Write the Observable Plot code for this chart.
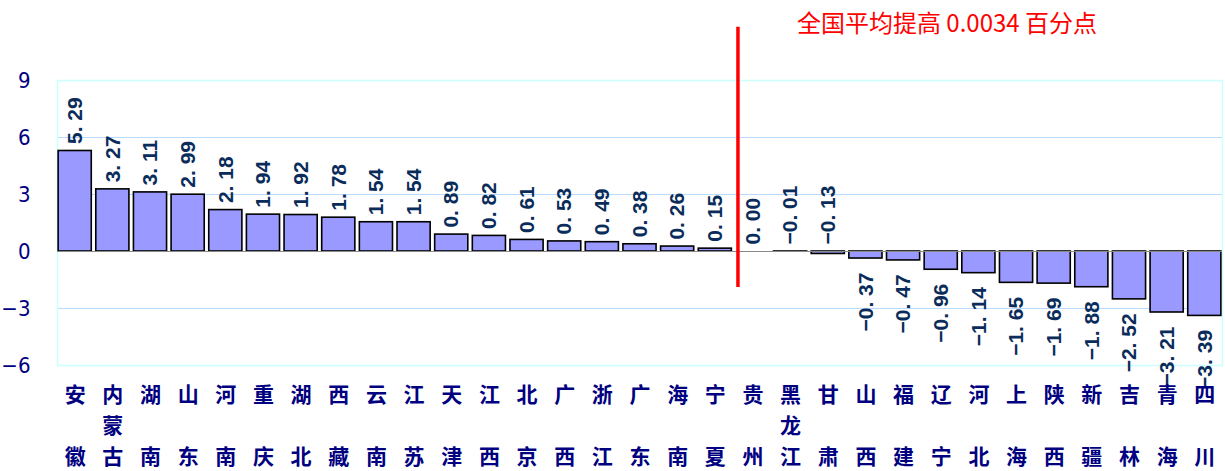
<!DOCTYPE html>
<html><head><meta charset="utf-8">
<script src="https://cdn.jsdelivr.net/npm/d3@7"></script>
<script src="https://cdn.jsdelivr.net/npm/@observablehq/plot@0.6"></script>
<style>
body{margin:0;background:#fff;}
#chart{width:1225px;height:471px;}
g[aria-label="value-labels-up"] text, g[aria-label="value-labels-down"] text{letter-spacing:3px;}
</style></head><body><div id="chart"></div>
<script>
const provinces = ["安徽","内蒙古","湖南","山东","河南","重庆","湖北","西藏","云南","江苏","天津","江西","北京","广西","浙江","广东","海南","宁夏","贵州","黑龙江","甘肃","山西","福建","辽宁","河北","上海","陕西","新疆","吉林","青海","四川"];
const changes = [5.29,3.27,3.11,2.99,2.18,1.94,1.92,1.78,1.54,1.54,0.89,0.82,0.61,0.53,0.49,0.38,0.26,0.15,0.00,-0.01,-0.13,-0.37,-0.47,-0.96,-1.14,-1.65,-1.69,-1.88,-2.52,-3.21,-3.39];
const yTicks = [-6,-3,0,3,6,9];
const gridValues = [-3,3,6];
const note = "全国平均提高 0.0034 百分点";
const markerProvince = "贵州";
const markerRange = [-1.9, 11.8];

const data = provinces.map((p,i)=>({province:p, value:changes[i]}));
const f2 = d3.format(".2f");
const fmt = v => f2(v).replace(".", ". ");
const above = data.filter(d => d.value > -0.2);
const below = data.filter(d => d.value <= -0.2);
const provFmt = p => p.length === 2 ? p[0] + "\n\n" + p[1] : p.split("").join("\n");
const labelFont = "'Liberation Sans', Arial, sans-serif";

const chart = Plot.plot({
  width: 1225, height: 471,
  marginLeft: 57, marginRight: 3, marginTop: 80, marginBottom: 106,
  x: {domain: provinces, paddingInner: 0.12, paddingOuter: 0.03, round: false},
  y: {domain: [-6, 9]},
  style: {background: "white", overflow: "visible"},
  marks: [
    Plot.ruleY(gridValues, {stroke: "#b8dbff", strokeWidth: 1}),
    Plot.frame({stroke: "#ccffff", strokeWidth: 1.5}),
    Plot.barY(data, {x: "province", y: "value", fill: "#9999ff", stroke: "#000", strokeWidth: 1.6}),
    Plot.ruleY([0], {stroke: "#8a8a8a", strokeWidth: 1}),
    Plot.text(above, {x: "province", y: d => Math.max(d.value, 0), text: d => fmt(d.value), rotate: -90, textAnchor: "start", lineAnchor: "middle", dy: -7, fontSize: 21, fontWeight: "bold", fontFamily: labelFont, fill: "#0a2c5a", ariaLabel: "value-labels-up"}),
    Plot.text(below, {x: "province", y: "value", text: d => fmt(d.value), rotate: -90, textAnchor: "end", lineAnchor: "middle", dy: 14, fontSize: 21, fontWeight: "bold", fontFamily: labelFont, fill: "#0a2c5a", ariaLabel: "value-labels-down"}),
    Plot.ruleX([markerProvince], {x: d => d, y1: markerRange[0], y2: markerRange[1], stroke: "#ff0000", strokeWidth: 3.5, dx: -15}),
    Plot.axisY({ticks: yTicks, tickSize: 0, tickPadding: 27, fontSize: 22, fontFamily: "'Liberation Sans Narrow', 'DejaVu Sans Condensed', 'Arial Narrow', sans-serif", color: "#000080", label: null}),
    Plot.axisX({tickSize: 0, tickPadding: 14, fontSize: 21, fontWeight: "bold", lineHeight: 1.48, color: "#000080", tickFormat: provFmt, fontFamily: "'Noto Sans CJK SC', sans-serif", label: null}),
    Plot.text([note], {frameAnchor: "top", dx: 307, dy: -56, lineAnchor: "middle", fill: "#ff0000", fontSize: 24, fontFamily: "'Noto Sans CJK SC', sans-serif"})
  ]
});
document.getElementById("chart").appendChild(chart);
</script></body></html>
